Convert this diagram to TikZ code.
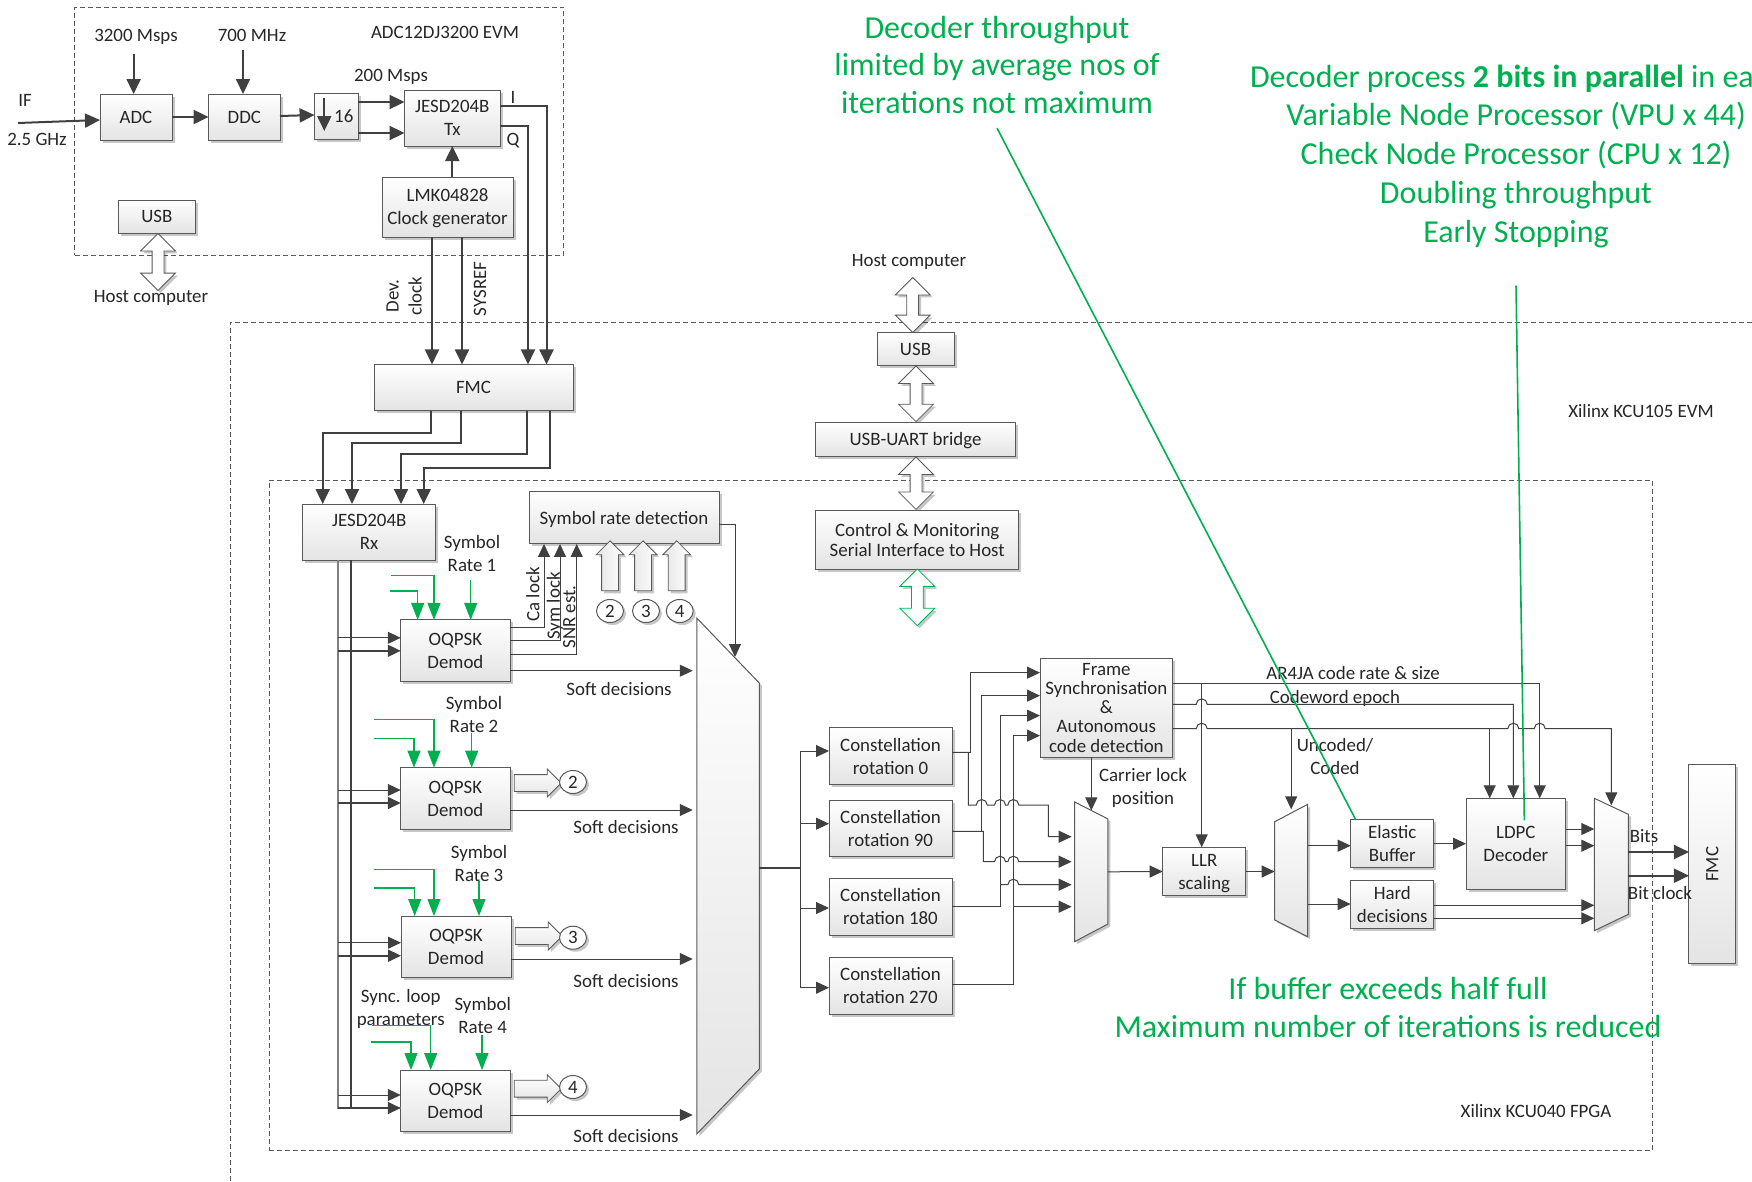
\documentclass[tikz,border=0pt]{standalone}
\usepackage{fontspec}
\setmainfont{Carlito}
\usetikzlibrary{arrows.meta, positioning, shapes.geometric, shapes.arrows, shadows}
\definecolor{wire}{HTML}{404040}
\definecolor{boxline}{HTML}{595959}
\definecolor{boxgray}{HTML}{E4E4E4}
\definecolor{note}{HTML}{00B050}
\newcommand{\hopat}[2]{-- (#1-5.5,#2) arc[start angle=180,end angle=0,radius=5.5pt]}
\tikzset{
  softshadow/.style={drop shadow={shadow xshift=2.5pt, shadow yshift=-2.5pt, opacity=.22, fill=black}},
  block/.style={draw=boxline, line width=1pt, top color=white, bottom color=boxgray,
    inner sep=0pt, outer sep=0pt, align=center, text depth=0pt, softshadow},
  boxsize/.style 2 args={minimum width=#1pt, minimum height=#2pt},
  muxarea/.style={inner sep=0pt, outer sep=0pt},
  mux/.style={draw=boxline, line width=1pt, top color=white, bottom color=boxgray, softshadow},
  lbl/.style={inner sep=0pt, outer sep=0pt, align=center, text depth=0pt},
  ball/.style={ellipse, draw=boxline, line width=1pt, fill=white, inner sep=0pt,
    minimum width=27pt, minimum height=23pt, softshadow},
  fatright/.style={single arrow, draw=boxline, line width=.8pt, top color=white, bottom color=boxgray,
    inner xsep=0pt, inner ysep=8pt, outer sep=0pt, minimum height=47pt, minimum width=27pt, single arrow head extend=5.5pt, softshadow},
  fatup/.style={fatright, rotate=90, shading angle=-90, minimum height=50pt},
  twoway/.style={double arrow, draw=boxline, line width=.8pt, fill=white, rotate=90, inner xsep=0pt, inner ysep=5.5pt, outer sep=0pt,
    minimum width=34pt, double arrow head extend=11.5pt, softshadow},
  dashbox/.style={draw=boxline, line width=.9pt, dash pattern=on 5pt off 3pt},
  bus/.style={draw=wire, line width=2pt, -{Triangle[length=15pt,width=14pt]}},
  sig/.style={draw=wire, line width=1pt, -{Triangle[length=13pt,width=12pt]}},
  gin/.style={draw=note, line width=1.2pt, {Triangle[length=17pt,width=13pt]}-},
  noteline/.style={draw=note, line width=1.6pt},
}

\begin{document}
\begin{tikzpicture}[x=1pt, y=-1pt, font=\fontsize{18.9}{23}\selectfont, text=black!85]
  \useasboundingbox (0,0) rectangle (1752,1181);

  % Dashed boards
  \node[dashbox, boxsize={489}{248}, inner sep=0pt] (evm) at (319.2,131) {};
  \draw[dashbox] (230,1181) |- (1752,322.4);
  \node[dashbox, boxsize={1383.5}{670}, inner sep=0pt] (fpga) at (960.8,815) {};

  % ADC board
  \node[block, boxsize={72}{46}] (adc) at (136,117) {ADC};
  \node[block, boxsize={71.4}{46}] (ddc) at (244.3,117) {DDC};
  \node[block, boxsize={43.4}{46}] (dec) at (336.3,116) {\hspace{15pt}16};
  \node[block, boxsize={95.5}{56}] (jesdtx) at (452.3,118) {JESD204B\\Tx};
  \node[block, boxsize={131}{60}] (lmk) at (447.5,207) {LMK04828\\Clock generator};
  \node[block, boxsize={77.6}{33}] (usbadc) at (156.8,216.5) {USB};
  \node[twoway, minimum height=57pt] (hostadc) at (158,262) {};
  \node[lbl] (hostadclbl) at (151,296) {Host computer};
  \node[lbl] (adcclk) at (136,35) {3200 Msps};
  \node[lbl] (ddcclk) at (252,35) {700 MHz};
  \node[lbl] (evmlbl) at (445,32) {ADC12DJ3200 EVM};
  \node[lbl] (ratelbl) at (391,75) {200 Msps};
  \node[lbl] (iflbl) at (25,100) {IF};
  \node[lbl] (freqlbl) at (37,139) {2.5 GHz};
  \node[lbl] (ilbl) at (513,97) {I};
  \node[lbl] (qlbl) at (513,139) {Q};
  \node[lbl, rotate=90] (devlbl) at (404,296) {Dev.\\clock};
  \node[lbl, rotate=90] (sysreflbl) at (480,289) {SYSREF};
  \coordinate (ifin) at (18,123);

  \draw[bus] (adc.north) ++(-2.4,-40) -- ([xshift=-2.4pt]adc.north);
  \draw[bus] (ddc.north) ++(-1.3,-44) -- ([xshift=-1.3pt]ddc.north);
  \draw[bus] (ifin) -- ([yshift=-3pt]adc.west);
  \draw[bus] (adc) -- (ddc);
  \draw[bus] (ddc) -- ([yshift=1pt]dec.west);
  \draw[bus] ([xshift=-12pt,yshift=18pt]dec.center) -- ([xshift=-12pt,yshift=-15pt]dec.center);
  \draw[bus] ([yshift=14pt]dec.east) -- ([yshift=16pt]jesdtx.west);
  \draw[bus] ([yshift=-17pt]dec.east) -- ([yshift=-15pt]jesdtx.west);
  \draw[bus] (lmk.north -| jesdtx.south) -- (jesdtx.south);

  % KCU105 board
  \node[block, boxsize={199}{46.5}] (fmcin) at (473.5,387.7) {FMC};
  \node[lbl] (hostlbl) at (909,260) {Host computer};
  \node[twoway, minimum height=55pt] (hostusb) at (912.7,305) {};
  \node[block, boxsize={77}{33}] (usb) at (915.5,349) {USB};
  \node[twoway, minimum height=55.6pt] (usbuart) at (916,393.8) {};
  \node[block, boxsize={199.6}{34}] (bridge) at (915.5,439) {USB-UART bridge};
  \node[twoway, minimum height=52.4pt] (uartctl) at (916,483.2) {};
  \node[block, boxsize={203}{59}, font=\fontsize{18.9}{20}\selectfont] (ctrl) at (917.2,539.5) {Control \& Monitoring\\Serial Interface to Host};
  \node[twoway, draw=note, minimum height=56.7pt] (ctlout) at (917.3,597.3) {};
  \node[lbl] (kculbl) at (1641,411) {Xilinx KCU105 EVM};
  \node[lbl] (fpgalbl) at (1536,1111) {Xilinx KCU040 FPGA};

  \draw[bus] ([yshift=12pt]jesdtx.east) -| ([xshift=73pt]fmcin.north);
  \draw[bus] ([yshift=-8pt]jesdtx.east) -| ([xshift=54.5pt]fmcin.north);
  \draw[bus] ([xshift=-15.5pt]lmk.south) -- ([xshift=-41.5pt]fmcin.north);
  \draw[bus] ([xshift=14.5pt]lmk.south) -- ([xshift=-11.5pt]fmcin.north);

  % Receiver and demodulators
  \node[block, boxsize={133}{56}] (jesdrx) at (369.2,532) {JESD204B\\Rx};
  \node[block, boxsize={190}{52.3}] (srd) at (624,517.8) {Symbol rate detection};
  \node[block, boxsize={109.3}{61.7}] (demoda) at (455.4,650.8) {OQPSK\\Demod};
  \node[block, boxsize={109.3}{61.7}] (demodb) at (455.4,798.5) {OQPSK\\Demod};
  \node[block, boxsize={110}{61}] (demodc) at (456,946.5) {OQPSK\\Demod};
  \node[block, boxsize={109.3}{61}] (demodd) at (455.4,1100.5) {OQPSK\\Demod};
  \node[muxarea, boxsize={62.5}{516}] (bigmux) at (728,876) {};
  \path[mux] (bigmux.north west) -- ([yshift=-65pt]bigmux.north east) -- ([yshift=65pt]bigmux.south east) -- (bigmux.south west) -- cycle;

  \node[lbl] (ratea) at (472,553) {Symbol\\Rate 1};
  \node[lbl] (rateb) at (474,714) {Symbol\\Rate 2};
  \node[lbl] (ratec) at (479,863) {Symbol\\Rate 3};
  \node[lbl] (rated) at (482.7,1015) {Symbol\\Rate 4};
  \node[lbl] (synclbl) at (400.7,1007) {Sync. loop\\parameters};
  \node[lbl] (softa) at (619,689) {Soft decisions};
  \node[lbl] (softb) at (626,827) {Soft decisions};
  \node[lbl] (softc) at (626,981) {Soft decisions};
  \node[lbl] (softd) at (626,1136) {Soft decisions};
  \node[lbl, rotate=90] (calbl) at (532.7,594.5) {Ca lock};
  \node[lbl, rotate=90] (symlbl) at (553.3,606) {Sym lock};
  \node[lbl, rotate=90] (snrlbl) at (569.3,617) {SNR est.};

  \node[fatup] (upb) at (610,570) {};
  \node[fatup] (upc) at (643,570) {};
  \node[fatup] (upd) at (676.7,570) {};
  \node[ball] (ballupb) at (610,611) {2};
  \node[ball] (ballupc) at (646,611) {3};
  \node[ball] (ballupd) at (679.7,611) {4};
  \node[fatright] (fatb) at (533.5,783) {};
  \node[fatright] (fatc) at (534.5,936) {};
  \node[fatright] (fatd) at (533.5,1088.7) {};
  \node[ball] (ballb) at (573,782) {2};
  \node[ball] (ballc) at (573,937.7) {3};
  \node[ball] (balld) at (573,1087) {4};

  % JESD to FMC
  \draw[bus] ([xshift=-42.5pt]fmcin.south) -- ++(0,21.7) -| ([xshift=-46.5pt]jesdrx.north);
  \draw[bus] ([xshift=-12.8pt]fmcin.south) -- ++(0,32) -| ([xshift=-17.2pt]jesdrx.north);
  \draw[bus] ([xshift=53.2pt]fmcin.south) -- ++(0,43) -| ([xshift=31.8pt]jesdrx.north);
  \draw[bus] ([xshift=76.5pt]fmcin.south) -- ++(0,56.7) -| ([xshift=54.5pt]jesdrx.north);

  % Rails into the demodulators
  \coordinate (railthin) at ([xshift=-31.2pt]jesdrx.south);
  \coordinate (railfat) at ([xshift=-18.2pt]jesdrx.south);
  \draw[draw=black!50, line width=1.2pt] (railthin) |- ([yshift=-7.5pt]demodd.west);
  \draw[draw=wire, line width=2pt] (railfat) -- ([yshift=-7.5pt]demodd.west -| railfat);
  \draw[sig] ([yshift=13pt]demoda.west -| railthin) -- ([yshift=13pt]demoda.west);
  \draw[sig, line width=1.8pt] ([yshift=0pt]demoda.west -| railthin) -- ([yshift=0pt]demoda.west);
  \draw[sig] ([yshift=8.5pt]demodb.west -| railthin) -- ([yshift=8.5pt]demodb.west);
  \draw[sig, line width=1.8pt] ([yshift=-4.5pt]demodb.west -| railthin) -- ([yshift=-4.5pt]demodb.west);
  \draw[sig] ([yshift=3.8pt]demodc.west -| railthin) -- ([yshift=3.8pt]demodc.west);
  \draw[sig, line width=1.8pt] ([yshift=-9.2pt]demodc.west -| railthin) -- ([yshift=-9.2pt]demodc.west);
  \draw[sig] ([yshift=5.5pt]demodd.west -| railthin) -- ([yshift=5.5pt]demodd.west);
  \draw[sig, line width=1.8pt] ([yshift=-7.5pt]demodd.west -| railthin) -- ([yshift=-7.5pt]demodd.west);

  % Green inputs
  \draw[gin] ([xshift=-21.4pt]demoda.north) |- ++(-43.3,-44.7);
  \draw[gin] ([xshift=-37.7pt]demoda.north) |- ++(-27.7,-29);
  \draw[gin] ([xshift=15.3pt]demoda.north) -- ++(0,-40);
  \draw[gin] ([xshift=-21.4pt]demodb.north) |- ++(-60,-48);
  \draw[gin] ([xshift=-41.4pt]demodb.north) |- ++(-40,-29.3);
  \draw[gin] ([xshift=16.3pt]demodb.north) -- ++(0,-35);
  \draw[gin] ([xshift=-22pt]demodc.north) |- ++(-60,-46.3);
  \draw[gin] ([xshift=-41.3pt]demodc.north) |- ++(-40.7,-28);
  \draw[gin] ([xshift=23pt]demodc.north) -- ++(0,-35);
  \draw[gin] ([xshift=-24.7pt]demodd.north) |- ++(-59,-44.3);
  \draw[gin] ([xshift=-44.4pt]demodd.north) |- ++(-40,-28);
  \draw[gin] ([xshift=26.6pt]demodd.north) -- ++(0,-35);

  % Lock signals and soft decisions
  \draw[sig] ([yshift=23pt]demoda.east) -| ([xshift=-80pt]srd.south);
  \draw[sig] ([yshift=10pt]demoda.east) -| ([xshift=-64pt]srd.south);
  \draw[sig] ([yshift=-3.9pt]demoda.east) -| ([xshift=-47.3pt]srd.south);
  \draw[sig] ([yshift=-6.2pt]srd.east) -| ([xshift=7pt,yshift=-39pt]bigmux.north);
  \draw[sig, shorten >=4pt] ([yshift=-19.9pt]demoda.east) -- ([yshift=-19.9pt]demoda.east -| bigmux.west);
  \draw[sig, shorten >=4pt] ([yshift=-11.5pt]demodb.east) -- ([yshift=-11.5pt]demodb.east -| bigmux.west);
  \draw[sig, shorten >=4pt] ([yshift=-12.5pt]demodc.east) -- ([yshift=-12.5pt]demodc.east -| bigmux.west);
  \draw[sig, shorten >=4pt] ([yshift=-14.5pt]demodd.east) -- ([yshift=-14.5pt]demodd.east -| bigmux.west);

  % Constellation rotations
  \node[block, boxsize={123}{56.6}] (rota) at (890.5,756) {Constellation\\rotation 0};
  \node[block, boxsize={123}{56.6}] (rotb) at (890.5,828.5) {Constellation\\rotation 90};
  \node[block, boxsize={123}{56.6}] (rotc) at (890.5,906.8) {Constellation\\rotation 180};
  \node[block, boxsize={123}{56.6}] (rotd) at (890.5,985.8) {Constellation\\rotation 270};
  \node[block, boxsize={132.7}{99.3}, font=\fontsize{18.9}{19.2}\selectfont] (frame) at (1106.35,707.65) {Frame\\Synchronisation\\\&\\Autonomous\\code detection};
  \node[muxarea, boxsize={33.3}{139.7}] (muxa) at (1091.3,871.8) {};
  \path[mux] (muxa.north west) -- ([yshift=-17pt]muxa.north east) -- ([yshift=17.7pt]muxa.south east) -- (muxa.south west) -- cycle;
  \node[block, boxsize={83}{48.4}] (llr) at (1204.2,871.5) {LLR\\scaling};
  \node[muxarea, boxsize={33}{132.4}] (muxb) at (1291.2,870.5) {};
  \path[mux] ([yshift=-17.4pt]muxb.north west) -- (muxb.north east) -- (muxb.south east) -- ([yshift=16.7pt]muxb.south west) -- cycle;
  \node[lbl] (carrierlbl) at (1143,786) {Carrier lock\\position};

  \coordinate (railrot) at ([xshift=41.3pt,yshift=8pt]bigmux.east);
  \draw[draw=wire, line width=1.4pt] ([yshift=8pt]bigmux.east) -- (railrot);
  \draw[draw=wire, line width=1.2pt] ([yshift=5pt]rota.west -| railrot) -- ([yshift=-1.9pt]rotd.west -| railrot);
  \draw[sig] ([yshift=5pt]rota.west -| railrot) -- ([yshift=5pt]rota.west);
  \draw[sig] ([yshift=4.8pt]rotb.west -| railrot) -- ([yshift=4.8pt]rotb.west);
  \draw[sig] ([yshift=-1.2pt]rotc.west -| railrot) -- ([yshift=-1.2pt]rotc.west);
  \draw[sig] ([yshift=-1.9pt]rotd.west -| railrot) -- ([yshift=-1.9pt]rotd.west);

  \draw[sig] ([yshift=3.7pt]rota.east) -- ++(18.7,0) |- ([yshift=35pt]frame.west);
  \draw[sig] ([yshift=-2.8pt]rotb.east) -- ++(29.7,0) |- ([yshift=12pt]frame.west);
  \draw[sig] (rotc.east) -- ++(48,0) |- ([yshift=-8pt]frame.west);
  \draw[sig] ([yshift=1.8pt]rotd.east) -- ++(61.3,0) |- ([yshift=-28pt]frame.west);

  \draw[sig, shorten >=3pt] ([yshift=3.7pt]rota.east) -- ++(16.3,0) -- ++(0,52.7) \hopat{981.7}{805} \hopat{1000}{805} \hopat{1013.3}{805}
    -- (1048.3,805) |- ([yshift=35.1pt]muxa.west);
  \draw[sig, shorten >=3pt] ([yshift=-2.8pt]rotb.east) -- ++(31.3,0) -- ++(0,30.4) \hopat{1000}{861.7} \hopat{1013.3}{861.7}
    -- ([yshift=10.1pt]muxa.west);
  \draw[sig, shorten >=3pt] (1000,884.7) \hopat{1013.3}{884.7} -- ([yshift=-12.9pt]muxa.west);
  \draw[sig, shorten >=3pt] (1013.3,906.7) -- ([yshift=-34.9pt]muxa.west);

  \draw[sig] (muxa.north |- frame.south) -- ([yshift=-8.5pt]muxa.north);
  \draw[sig] (muxa.east) -- (llr.west);
  \draw[sig] (llr.east) -- (llr.east -| muxb.west);

  % Decoder chain
  \node[block, boxsize={83}{48}] (elastic) at (1392.2,843.7) {Elastic\\Buffer};
  \node[block, boxsize={83.3}{48}] (hard) at (1392.3,904) {Hard\\decisions};
  \node[block, boxsize={99.7}{91}] (ldpc) at (1515.85,843.8) {LDPC\\Decoder};
  \node[muxarea, boxsize={34}{132.4}] (muxc) at (1611.3,864.5) {};
  \path[mux] (muxc.north west) -- ([yshift=-16pt]muxc.north east) -- ([yshift=16.4pt]muxc.south east) -- (muxc.south west) -- cycle;
  \node[block, boxsize={46.7}{198.7}] (fmcout) at (1712.3,864.3) {};
  \node[lbl, rotate=90] (fmcoutlbl) at (fmcout) {FMC};
  \node[lbl] (ratesize) at (1353,672.7) {AR4JA code rate \& size};
  \node[lbl] (epochlbl) at (1335,696.7) {Codeword epoch};
  \node[lbl] (codedlbl) at (1335,756) {Uncoded/\\Coded};
  \node[lbl] (bitslbl) at (1644,836) {Bits};
  \node[lbl] (bitclk) at (1660,893) {Bit clock};

  \coordinate (tapllr) at ([xshift=-2.5pt]llr.north);
  \coordinate (tapldpc) at ([xshift=-26.15pt]ldpc.north);
  \draw[sig] ([yshift=24.65pt]frame.east) -| ([xshift=23.85pt]ldpc.north);
  \draw[sig] ([yshift=24.65pt]frame.east -| tapllr) -- (tapllr);
  \draw[sig] ([yshift=3.35pt]frame.east) \hopat{1201.7}{704.3} -| ([xshift=-2.55pt]ldpc.north);
  \draw[sig] ([yshift=-21.05pt]frame.east) \hopat{1201.7}{728.7} \hopat{1513.3}{728.7} \hopat{1539.7}{728.7} -| ([yshift=-7pt]muxc.north);
  \draw[sig] ([yshift=-21.05pt]frame.east -| muxb.north) -- ([yshift=-5pt]muxb.north);
  \draw[sig] ([yshift=-21.05pt]frame.east -| tapldpc) -- (tapldpc);

  \draw[sig] ([yshift=-2pt]elastic.west -| muxb.east) -- ([yshift=-2pt]elastic.west);
  \draw[sig] (hard.west -| muxb.east) -- (hard.west);
  \draw[sig] (elastic.east) -- (elastic.east -| ldpc.west);
  \draw[sig] ([yshift=14.8pt]ldpc.east) -- ([yshift=14.8pt]ldpc.east -| muxc.west);
  \draw[sig] ([yshift=-1.9pt]ldpc.east) -- ([yshift=-1.9pt]ldpc.east -| muxc.west);
  \draw[sig] ([yshift=-1.3pt]hard.east) -- ([yshift=-1.3pt]hard.east -| muxc.west);
  \draw[sig] ([yshift=-14.3pt]hard.east) -- ([yshift=-14.3pt]hard.east -| muxc.west);
  \draw[bus] ([yshift=12.3pt]fmcout.west -| muxc.east) -- ([yshift=12.3pt]fmcout.west);
  \draw[bus] ([yshift=-11.4pt]fmcout.west -| muxc.east) -- ([yshift=-11.4pt]fmcout.west);

  % Green notes
  \node[lbl, text=note, font=\fontsize{32}{37.5}\selectfont] (noteavg) at (997,64.5) {Decoder throughput\\limited by average nos of\\iterations not maximum};
  \node[lbl, text=note, font=\fontsize{32}{39}\selectfont, anchor=west] (noteproc) at (1250,76) {Decoder process \textbf{2 bits in parallel} in ea};
  \node[lbl, text=note, font=\fontsize{32}{39}\selectfont] (notevpu) at (1516,172.5) {Variable Node Processor (VPU x 44)\\Check Node Processor (CPU x 12)\\Doubling throughput\\Early Stopping};
  \node[lbl, text=note, font=\fontsize{32}{38}\selectfont] (notebuf) at (1388,1007) {If buffer exceeds half full\\Maximum number of iterations is reduced};
  \draw[noteline] ([yshift=-15pt]noteavg.south) -- ([xshift=5pt]elastic.north west);
  \draw[noteline] ([yshift=-43pt]notevpu.south) -- ([xshift=8.5pt,yshift=-22pt]ldpc.north);
\end{tikzpicture}
\end{document}
